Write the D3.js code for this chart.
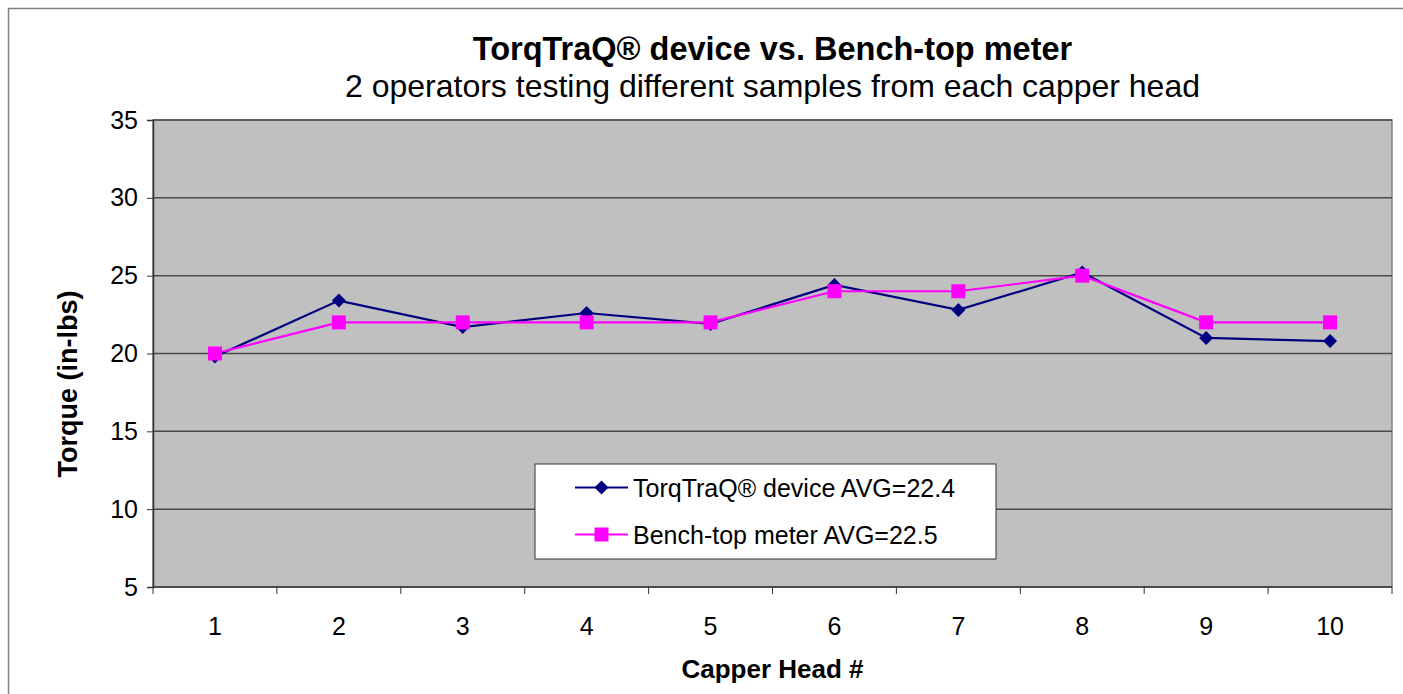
<!DOCTYPE html>
<html>
<head>
<meta charset="utf-8">
<script src="https://cdn.jsdelivr.net/npm/d3@7"></script>
<style>
  body { margin: 0; background: #fff; }
  svg text { font-family: "Liberation Sans", Arial, sans-serif; fill: #000; }
</style>
</head>
<body>
<svg id="chart" width="1403" height="694"></svg>
<script>
// data
const heads = ["1", "2", "3", "4", "5", "6", "7", "8", "9", "10"];
const torqTraq = [19.8, 23.4, 21.7, 22.6, 21.9, 24.4, 22.8, 25.2, 21.0, 20.8];
const benchTop = [20, 22, 22, 22, 22, 24, 24, 25, 22, 22];
const yTicks = [5, 10, 15, 20, 25, 30, 35];

const seriesList = [
	{ name: "TorqTraQ\u00ae device AVG=22.4", values: torqTraq, color: "#000080", shape: "diamond" },
	{ name: "Bench-top meter AVG=22.5", values: benchTop, color: "#ff00ff", shape: "square" }
];

const svg = d3.select("#chart");
const plot = { left: 153, right: 1392, top: 120, bottom: 587 };

// outer chart frame (right and bottom edges fall outside the picture)
svg.append("rect")
	.attr("x", 8.5).attr("y", 8.5)
	.attr("width", 1403).attr("height", 700)
	.attr("fill", "none").attr("stroke", "#808080").attr("stroke-width", 1.5);

const x = d3.scaleBand().domain(heads).range([plot.left, plot.right]);
const y = d3.scaleLinear().domain([5, 35]).range([plot.bottom, plot.top]);

svg.append("rect")
	.attr("x", plot.left).attr("y", plot.top)
	.attr("width", plot.right - plot.left).attr("height", plot.bottom - plot.top)
	.attr("fill", "#c0c0c0").attr("stroke", "#808080").attr("stroke-width", 1.5);

// gridlines
svg.append("g").selectAll("line")
	.data(yTicks.slice(1))
	.join("line")
	.attr("x1", plot.left).attr("x2", plot.right)
	.attr("y1", d => y(d)).attr("y2", d => y(d))
	.attr("stroke", "#4a4a4a").attr("stroke-width", 1.5);

// y axis
const yAxis = svg.append("g")
	.attr("transform", `translate(${plot.left},0)`)
	.call(d3.axisLeft(y).tickValues(yTicks).tickSize(6).tickPadding(9));
yAxis.attr("font-size", null).attr("font-family", null);
yAxis.select(".domain").attr("stroke", "#333").attr("stroke-width", 1.5);
yAxis.selectAll(".tick line").attr("stroke", "#333");
yAxis.selectAll("text").attr("font-size", 25);

// x axis: ticks sit on band boundaries, labels at band centres
const xAxis = svg.append("g").attr("transform", `translate(0,${plot.bottom})`);
xAxis.append("line")
	.attr("x1", plot.left).attr("x2", plot.right)
	.attr("stroke", "#333").attr("stroke-width", 1.5);
xAxis.selectAll("line.tick")
	.data(heads.concat(["end"]))
	.join("line")
	.attr("class", "tick")
	.attr("x1", (d, i) => plot.left + i * x.step())
	.attr("x2", (d, i) => plot.left + i * x.step())
	.attr("y1", 0).attr("y2", 7)
	.attr("stroke", "#333");
xAxis.selectAll("text")
	.data(heads)
	.join("text")
	.attr("x", d => x(d) + x.bandwidth() / 2)
	.attr("y", 48)
	.attr("text-anchor", "middle")
	.attr("font-size", 25)
	.text(d => d);

// series
const line = d3.line()
	.x((d, i) => x(heads[i]) + x.bandwidth() / 2)
	.y(d => y(d));

function drawMarker(g, shape, color, cx, cy) {
	if (shape === "diamond") {
		g.append("path")
			.attr("d", `M${cx},${cy - 7}L${cx + 7},${cy}L${cx},${cy + 7}L${cx - 7},${cy}Z`)
			.attr("fill", color);
	} else {
		g.append("rect")
			.attr("x", cx - 7).attr("y", cy - 7)
			.attr("width", 14).attr("height", 14)
			.attr("fill", color);
	}
}

seriesList.forEach(s => {
	const g = svg.append("g");
	g.append("path")
		.datum(s.values)
		.attr("d", line)
		.attr("fill", "none")
		.attr("stroke", s.color)
		.attr("stroke-width", 2.2);
	s.values.forEach((v, i) => {
		drawMarker(g, s.shape, s.color, x(heads[i]) + x.bandwidth() / 2, y(v));
	});
});

// legend
const legend = svg.append("g").attr("transform", "translate(535,464)");
legend.append("rect")
	.attr("width", 461).attr("height", 95)
	.attr("fill", "#fff").attr("stroke", "#333").attr("stroke-width", 1);
seriesList.forEach((s, i) => {
	const ly = 23.5 + i * 47;
	legend.append("line")
		.attr("x1", 40).attr("x2", 93)
		.attr("y1", ly).attr("y2", ly)
		.attr("stroke", s.color).attr("stroke-width", 2);
	drawMarker(legend, s.shape, s.color, 66.5, ly);
	legend.append("text")
		.attr("x", 98).attr("y", ly + 9.5)
		.attr("font-size", 25)
		.text(s.name);
});

// titles
const cx = (plot.left + plot.right) / 2;
svg.append("text")
	.attr("x", cx).attr("y", 60)
	.attr("text-anchor", "middle")
	.attr("font-size", 32.5).attr("font-weight", "bold")
	.text("TorqTraQ\u00ae device vs. Bench-top meter");
svg.append("text")
	.attr("x", cx).attr("y", 97)
	.attr("text-anchor", "middle")
	.attr("font-size", 32)
	.text("2 operators testing different samples from each capper head");

svg.append("text")
	.attr("x", cx).attr("y", 678)
	.attr("text-anchor", "middle")
	.attr("font-size", 26).attr("font-weight", "bold")
	.text("Capper Head #");

svg.append("text")
	.attr("transform", "translate(77,384) rotate(-90)")
	.attr("text-anchor", "middle")
	.attr("font-size", 27).attr("font-weight", "bold")
	.text("Torque (in-lbs)");
</script>
</body>
</html>
